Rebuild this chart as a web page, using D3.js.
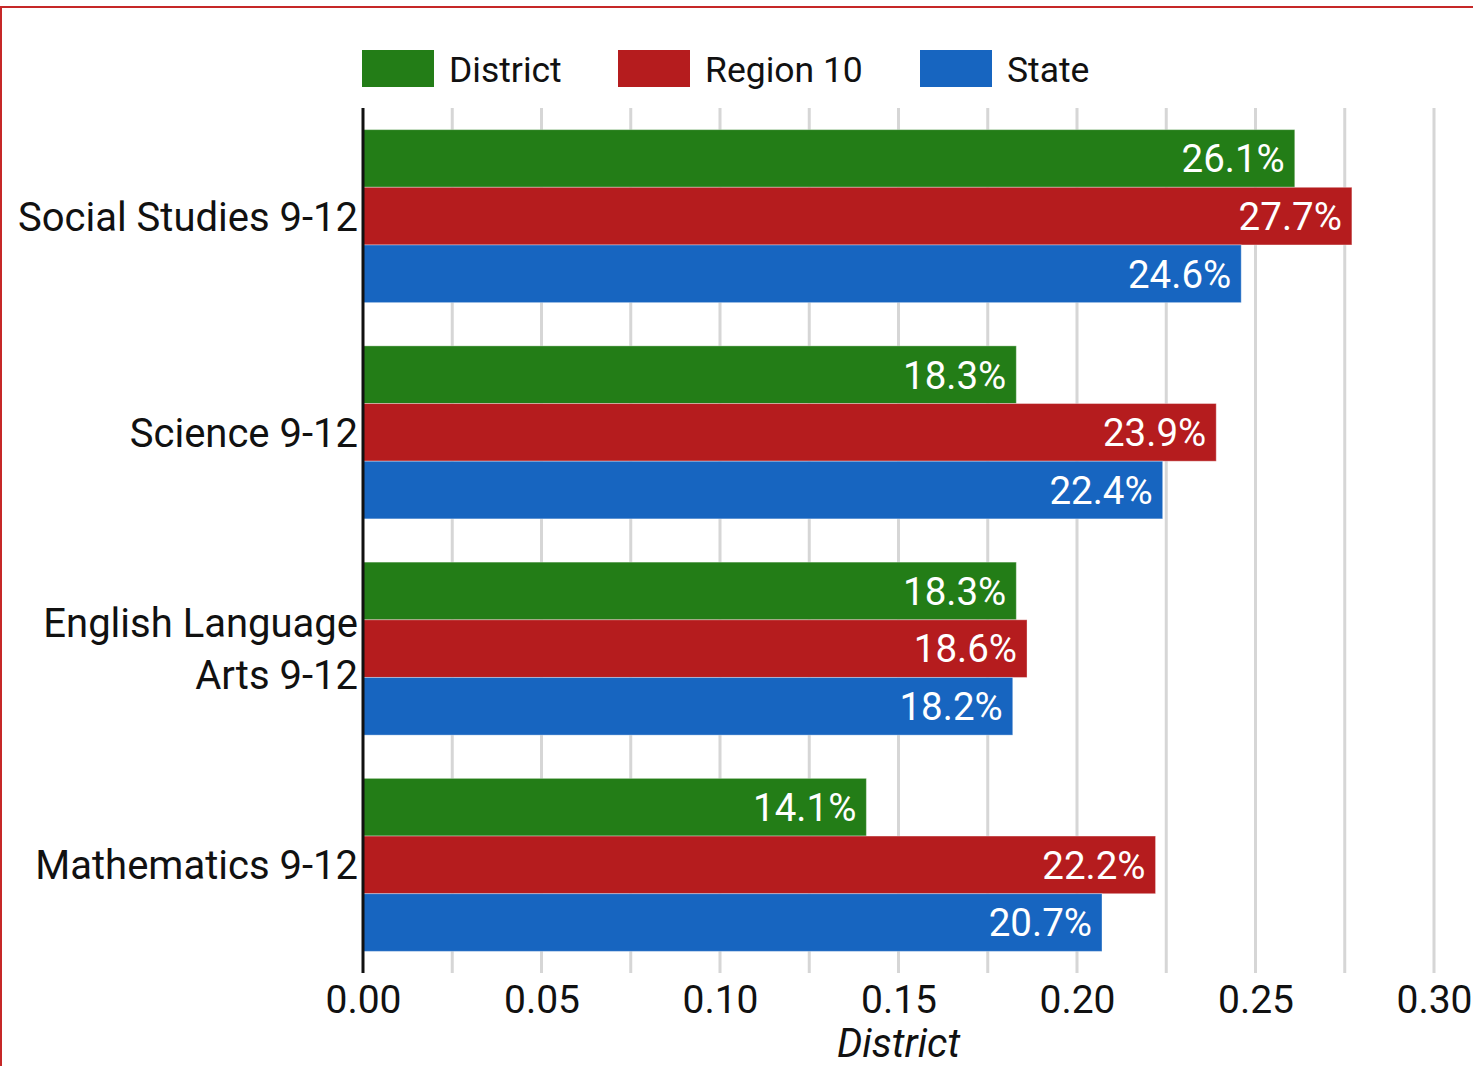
<!DOCTYPE html>
<html>
<head>
<meta charset="utf-8">
<script src="https://cdn.jsdelivr.net/npm/d3@7"></script>
<style>
  html, body { margin: 0; padding: 0; background: #fff; }
  svg { display: block; font-family: Roboto, "Noto Sans", sans-serif; }
</style>
</head>
<body>
<svg id="chart" width="1473" height="1066"></svg>
<script>
// Subject areas (top to bottom) and their label lines
const categories = ["Social Studies 9-12", "Science 9-12", "English Language Arts 9-12", "Mathematics 9-12"];
const categoryLines = [["Social Studies 9-12"], ["Science 9-12"], ["English Language", "Arts 9-12"], ["Mathematics 9-12"]];

// Series names and values (fractions)
const seriesNames = ["District", "Region 10", "State"];
const districtValues = [0.261, 0.183, 0.183, 0.141];
const regionValues   = [0.277, 0.239, 0.186, 0.222];
const stateValues    = [0.246, 0.224, 0.182, 0.207];
const seriesColors = ["#237d17", "#b51c1e", "#1765c0"];

// Axis ticks
const majorTicks = [0, 0.05, 0.10, 0.15, 0.20, 0.25, 0.30];
const gridTicks = [0.025, 0.05, 0.075, 0.10, 0.125, 0.15, 0.175, 0.20, 0.225, 0.25, 0.275, 0.30];
const axisTitle = "District";

const seriesValues = [districtValues, regionValues, stateValues];

const svg = d3.select("#chart");
const W = 1473, H = 1066;
const plot = { left: 363, right: 1434, top: 108, bottom: 973 };

// outer frame
svg.append("rect")
  .attr("x", 1).attr("y", 7)
  .attr("width", W + 10).attr("height", H + 10)
  .attr("fill", "none").attr("stroke", "#c62828").attr("stroke-width", 2);

const x = d3.scaleLinear().domain([0, 0.30]).range([plot.left, plot.right]);
const y0 = d3.scaleBand().domain(categories).range([plot.top, plot.bottom])
  .paddingInner(0.2).paddingOuter(0.1);
const y1 = d3.scaleBand().domain(seriesNames).range([0, y0.bandwidth()]).padding(0);

// gridlines
svg.append("g").selectAll("line").data(gridTicks).join("line")
  .attr("x1", d => x(d)).attr("x2", d => x(d))
  .attr("y1", plot.top).attr("y2", plot.bottom)
  .attr("stroke", "#d6d6d6").attr("stroke-width", 3);

// bars
const groups = svg.append("g").selectAll("g").data(categories).join("g")
  .attr("transform", c => `translate(0,${y0(c)})`);

groups.each(function (c, ci) {
  const g = d3.select(this);
  seriesNames.forEach((s, si) => {
    const v = seriesValues[si][ci];
    g.append("rect")
      .attr("x", x(0)).attr("y", y1(s))
      .attr("width", x(v) - x(0)).attr("height", y1.bandwidth())
      .attr("fill", seriesColors[si])
      .attr("stroke", "rgba(255,255,255,0.35)").attr("stroke-width", 1);
    g.append("text")
      .attr("x", x(v) - 10).attr("y", y1(s) + y1.bandwidth() / 2)
      .attr("dy", "0.36em")
      .attr("text-anchor", "end")
      .attr("fill", "#fff")
      .attr("font-size", 38.5)
      .text(d3.format(".1%")(v));
  });
});

// category labels
svg.append("g").selectAll("text").data(categories).join("text")
  .attr("text-anchor", "end")
  .attr("font-size", 40)
  .attr("fill", "#111")
  .each(function (c, i) {
    const lines = categoryLines[i];
    const cy = y0(c) + y0.bandwidth() / 2;
    const lh = 52;
    lines.forEach((ln, li) => {
      d3.select(this).append("tspan")
        .attr("x", plot.left - 5)
        .attr("y", cy + (li - (lines.length - 1) / 2) * lh)
        .attr("dy", "0.36em")
        .text(ln);
    });
  });

// y axis line
svg.append("line")
  .attr("x1", plot.left).attr("x2", plot.left)
  .attr("y1", plot.top).attr("y2", plot.bottom)
  .attr("stroke", "#111").attr("stroke-width", 3);

// x axis tick labels
const xAxis = d3.axisBottom(x).tickValues(majorTicks).tickSize(0).tickPadding(0)
  .tickFormat(d3.format(".2f"));
const xg = svg.append("g").attr("transform", `translate(0,${plot.bottom + 10})`).call(xAxis);
xg.select(".domain").remove();
xg.selectAll("text")
  .attr("font-size", 39).attr("fill", "#111")
  .attr("font-family", "Roboto, sans-serif")
  .attr("dy", "0.78em");

// axis title
svg.append("text")
  .attr("x", (plot.left + plot.right) / 2).attr("y", 1057)
  .attr("text-anchor", "middle")
  .attr("font-size", 40).attr("font-style", "italic").attr("fill", "#111")
  .text(axisTitle);

// legend
const legendX = [362, 618, 920];
const legend = svg.append("g").selectAll("g").data(seriesNames).join("g")
  .attr("transform", (d, i) => `translate(${legendX[i]},50)`);
legend.append("rect")
  .attr("width", 72).attr("height", 37)
  .attr("fill", (d, i) => seriesColors[i]);
legend.append("text")
  .attr("x", 87).attr("y", 19).attr("dy", "0.36em")
  .attr("font-size", 35.5).attr("fill", "#111")
  .text(d => d);
</script>
</body>
</html>
